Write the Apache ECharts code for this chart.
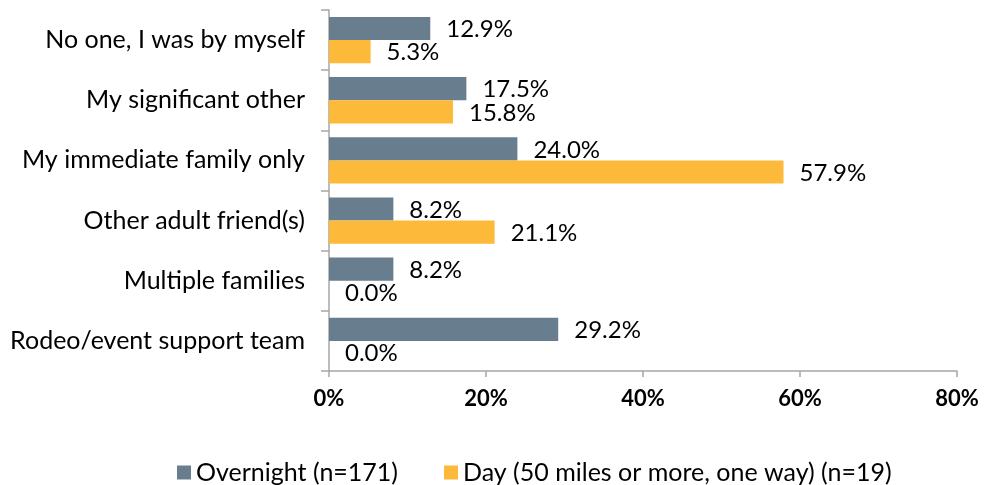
<!DOCTYPE html>
<html><head><meta charset="utf-8">
<script src="https://cdn.jsdelivr.net/npm/echarts@6/dist/echarts.min.js"></script>
<style>html,body{margin:0;padding:0;background:#fff}#c{width:984px;height:485px}</style>
</head><body><div id="c"></div>
<script>
const categories = ["No one, I was by myself","My significant other","My immediate family only","Other adult friend(s)","Multiple families","Rodeo/event support team"];
const overnight = [12.9, 17.5, 24.0, 8.2, 8.2, 29.2];
const day = [5.3, 15.8, 57.9, 21.1, 0.0, 0.0];
const seriesNames = ["Overnight (n=171)", "Day (50 miles or more, one way) (n=19)"];
const xTicks = [0, 20, 40, 60, 80];

const FONT = "Lato";
const chart = echarts.init(document.getElementById('c'));
const lbl = {show:true, position:'right', distance:16, offset:[0,1], fontFamily:FONT, fontSize:24, color:'#000',
  formatter: p => p.value.toFixed(1) + '%'};
chart.setOption({
  animation:false,
  grid:{left:329, right:27, top:10, bottom:114},
  legend:{left:172, top:455, itemWidth:14, itemHeight:14, itemGap:46, icon:'rect',
    textStyle:{fontFamily:FONT, fontSize:25, color:'#000'}, data:seriesNames},
  xAxis:{type:'value', min:xTicks[0], max:xTicks[xTicks.length-1], interval:20,
    axisLine:{show:true, lineStyle:{color:'#A6A6A6', width:1.5}},
    axisTick:{show:true, length:6, inside:false, lineStyle:{color:'#A6A6A6', width:1.5}},
    splitLine:{show:false},
    axisLabel:{formatter:v=>v+'%', fontFamily:FONT, fontSize:22, fontWeight:'bold', color:'#000', margin:17}},
  yAxis:{type:'category', data:categories, inverse:true,
    axisLine:{show:true, lineStyle:{color:'#A6A6A6', width:1.5}},
    axisTick:{show:true, length:8, lineStyle:{color:'#A6A6A6', width:1.5}},
    axisLabel:{fontFamily:FONT, fontSize:25, color:'#000', margin:24}},
  series:[
    {name:seriesNames[0], type:'bar', data:overnight, barGap:'0%', barCategoryGap:'23%',
      itemStyle:{color:'#687D8E'}, label:lbl},
    {name:seriesNames[1], type:'bar', data:day, barGap:'0%', barCategoryGap:'23%',
      itemStyle:{color:'#FDB939'}, label:lbl}
  ]
});
</script></body></html>
